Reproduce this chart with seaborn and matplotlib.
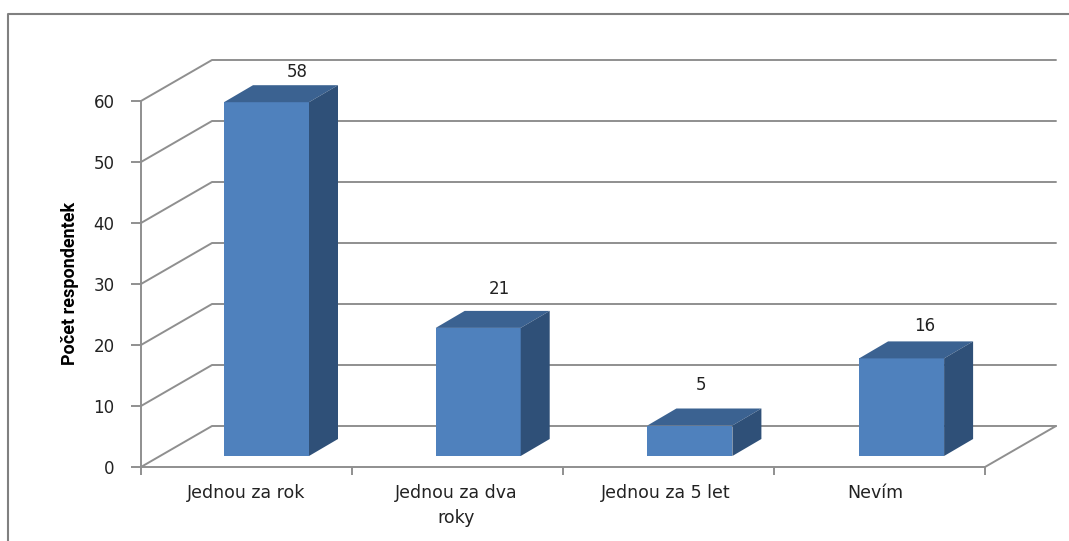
import matplotlib
matplotlib.use("Agg")
import matplotlib.pyplot as plt
from matplotlib.lines import Line2D
from matplotlib.patches import Polygon
from matplotlib.transforms import Affine2D, ScaledTranslation
import seaborn as sns
import pandas as pd

categories = ["Jednou za rok", "Jednou za dva\nroky", "Jednou za 5 let", "Nevím"]
values = [58, 21, 5, 16]
yticks = [0, 10, 20, 30, 40, 50, 60]

W, H = 1069, 541
GRAY = "#8f8f8f"
FRONT, TOP, SIDE = "#4f81bd", "#3b6291", "#2f5078"
TEXT = "#222222"

sns.set_theme(style="white")
plt.rcParams["font.family"] = ["DejaVu Sans"]

fig = plt.figure(figsize=(W / 100, H / 100), dpi=100, facecolor="white")
L, R, T, B = 141, 985, 101, 467
ax = fig.add_axes([L / W, 1 - B / H, (R - L) / W, (B - T) / H])
ax.patch.set_alpha(0)

df = pd.DataFrame({"cat": categories, "n": values})
sns.barplot(data=df, x="cat", y="n", color=FRONT, saturation=1, width=85 / 211,
            linewidth=0, edgecolor="none", ax=ax, zorder=5)
ax.set_xlim(-0.5, 3.5)
ax.set_ylim(0, 60)

ux, uy = (R - L) / 4, (B - T) / 60      # pixels per data unit
wall_dx, wall_dy = 71 / ux, 41 / uy     # depth of the back wall
bar_dx, bar_dy = 20 / ux, 11 / uy       # bars stand inside the floor
side_dx, side_dy = 29 / ux, 17 / uy     # depth of each bar
spread = 0.7 / ux                       # extra spacing between the bars

# back wall grid, diagonal side lines and floor
for v in yticks:
    ax.plot([-0.5, -0.5 + wall_dx, 3.5 + wall_dx], [v, v + wall_dy, v + wall_dy],
            color=GRAY, lw=1.4, clip_on=False, zorder=1)
ax.plot([3.5, 3.5 + wall_dx], [0, wall_dy], color=GRAY, lw=1.4, clip_on=False, zorder=1)

# bars: shift the seaborn bars and add their top and side faces
for i, (patch, v) in enumerate(zip(ax.patches, values)):
    off = bar_dx + i * spread
    patch.set_transform(ax.transData + Affine2D().translate(off * ux, bar_dy * uy))
    patch.set_clip_on(False)
    x0 = patch.get_x() + off
    x1 = x0 + patch.get_width()
    y0, y1 = bar_dy, v + bar_dy
    ax.add_patch(Polygon([(x0, y1), (x1, y1), (x1 + side_dx, y1 + side_dy), (x0 + side_dx, y1 + side_dy)],
                         facecolor=TOP, edgecolor="none", clip_on=False, zorder=5))
    ax.add_patch(Polygon([(x1, y0), (x1 + side_dx, y0 + side_dy), (x1 + side_dx, y1 + side_dy), (x1, y1)],
                         facecolor=SIDE, edgecolor="none", clip_on=False, zorder=5))

# value labels
label_dx = [31, 21.5, 11, 23.5]
label_dy = [30, 39, 41, 32]
for i, v in enumerate(values):
    ax.text(i + bar_dx + i * spread + label_dx[i] / ux, v + bar_dy + label_dy[i] / uy, str(v),
            ha="center", va="center", fontsize=12, color=TEXT, clip_on=False, zorder=6)

# axes
for s in ["top", "right"]:
    ax.spines[s].set_visible(False)
for s in ["left", "bottom"]:
    ax.spines[s].set_color(GRAY)
    ax.spines[s].set_linewidth(1.4)
    ax.spines[s].set_zorder(2)
ax.set_yticks(yticks)
ax.tick_params(axis="y", left=True, length=7, width=1.4, color=GRAY, labelsize=12, labelcolor=TEXT, pad=12)
ax.set_xticks([-0.5, 0.5, 1.5, 2.5, 3.5], minor=True)
ax.tick_params(axis="x", which="minor", bottom=True, length=6, width=1.4, color=GRAY)
ax.tick_params(axis="x", which="major", bottom=False, length=0, labelsize=12.5, labelcolor=TEXT, pad=12)
ax.set_xticks(range(len(categories)), categories)
tick_nudge = [0, -1, -3, -4]
for lab, n in zip(ax.get_xticklabels(), tick_nudge):
    lab.set_linespacing(1.5)
    lab.set_transform(lab.get_transform() + Affine2D().translate(n, 0))
ax.set_xlabel("")
ax.set_ylabel("")
fig.text(70 / W, 1 - 283 / H, "Počet respondentek", rotation=90, ha="center", va="center",
         fontsize=13, fontweight="bold", family="Roboto", color="black")

# outer frame
fig.add_artist(Line2D([8 / W, 8 / W, 1], [0, 1 - 14 / H, 1 - 14 / H], color="#808080", lw=1.5))

fig.savefig("out.png", dpi=100, facecolor="white")
